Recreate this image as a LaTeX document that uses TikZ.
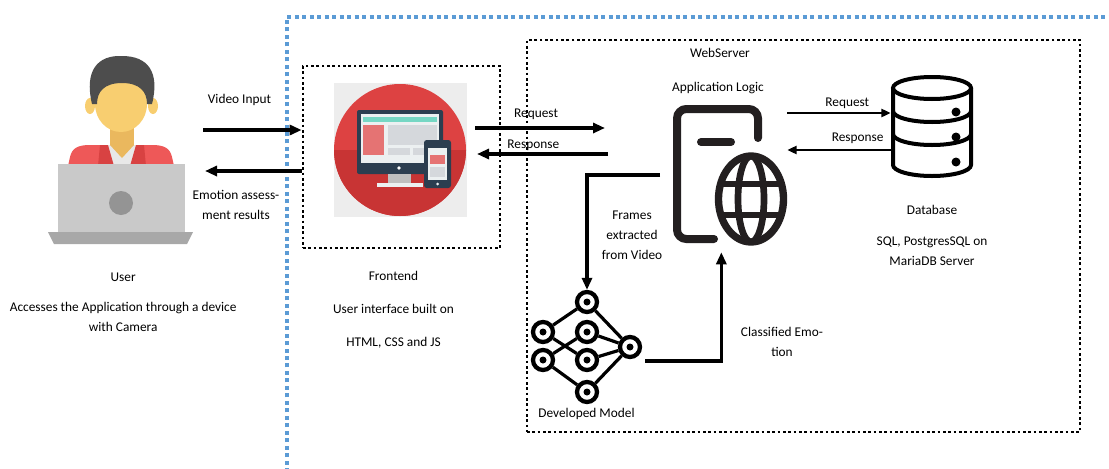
\documentclass[tikz,border=0pt]{standalone}
\usepackage{fontspec}
\setmainfont{Carlito}
\usepackage{xcolor}
\usetikzlibrary{arrows.meta, positioning, fit}
\definecolor{zoneblue}{RGB}{91, 155, 213}
\definecolor{hairgray}{RGB}{77, 77, 77}
\definecolor{skin}{RGB}{248, 206, 112}
\definecolor{skindark}{RGB}{234, 184, 94}
\definecolor{jacket}{RGB}{238, 88, 88}
\definecolor{jacketdark}{RGB}{216, 66, 66}
\definecolor{shirt}{RGB}{232, 232, 232}
\definecolor{laptop}{RGB}{201, 201, 201}
\definecolor{laptopdark}{RGB}{168, 168, 168}
\definecolor{iconred}{RGB}{221, 66, 66}
\definecolor{iconreddark}{RGB}{200, 52, 52}
\definecolor{navy}{RGB}{44, 62, 80}
\definecolor{screen}{RGB}{236, 240, 241}
\definecolor{mint}{RGB}{118, 215, 196}
\definecolor{salmon}{RGB}{229, 115, 115}
\definecolor{panel}{RGB}{213, 216, 220}
\definecolor{ink}{RGB}{35, 31, 32}

\begin{document}
\begin{tikzpicture}[
    x=0.75pt, y=-0.75pt,
    frame/.style={draw, line width=2pt, dash pattern=on 2pt off 2pt,
                  inner sep=0pt},
    zone/.style={draw=zoneblue, line width=3pt, dash pattern=on 3pt off 2.6pt},
    arr/.style={-{Triangle[length=9pt, width=7.5pt]}, line width=2.4pt},
    thinarr/.style={-{Triangle[length=7pt, width=6pt]}, line width=1.8pt},
    lbl/.style={font=\fontsize{10}{15}\selectfont, align=center, inner sep=1pt},
    neuron/.style={circle, draw, line width=3.2pt, fill=white,
                   minimum size=15pt, inner sep=0pt},
    hole/.style={fill=white, inner sep=0pt}
]
\useasboundingbox (0,0) rectangle (1109,468);

% outer zone (cloud side)
\draw[zone] (287,472) -- (287,17) -- (1113,17);

% --- user at a laptop ---
\fill[skin] (90,106) ellipse (5 and 8);
\fill[skin] (153,106) ellipse (5 and 8);
\fill[skindark] (110,118) rectangle (134,152);
\fill[skin] (121,104) ellipse (26 and 28);
\fill[hairgray] (92,104) .. controls (84,70) and (98,55) .. (122,56)
    .. controls (148,56) and (160,72) .. (152,104) -- (147,104)
    .. controls (147,92) and (140,83) .. (122,83)
    .. controls (104,83) and (97,92) .. (97,104) -- cycle;
\fill[jacket] (68,166) -- (70,157) .. controls (72,148) and (78,145) .. (90,145)
    -- (152,145) .. controls (164,145) and (170,148) .. (172,157) -- (174,166) -- cycle;
\fill[shirt] (106,145) -- (138,145) -- (136,166) -- (108,166) -- cycle;
\fill[skindark] (110,145) -- (134,145) -- (122,158) -- cycle;
\fill[jacketdark] (100,145) -- (108,145) -- (114,166) -- (98,166) -- cycle;
\fill[jacketdark] (136,145) -- (144,145) -- (146,166) -- (130,166) -- cycle;
\fill[laptop] (58,164) rectangle (185,233);
\fill[laptopdark] (48,232) -- (193,232) -- (187,244) -- (54,244) -- cycle;
\fill[black!42] (121,203) circle (12);
\node[fit={(48,56) (193,244)}, inner sep=0pt] (user) {};

% --- responsive web icon ---
\fill[black!7] (334,83) rectangle (467,217);
\fill[iconred] (400,150) circle (66);
\begin{scope}
  \clip (400,150) circle (66);
  \fill[iconreddark] (330,150) rectangle (470,220);
\end{scope}
\fill[navy, rounded corners=1.5pt] (357,110) rectangle (443,174);
\fill[screen] (361,114) rectangle (439,163);
\fill[mint] (363,117) rectangle (437,122);
\fill[salmon] (363,125) rectangle (384,155);
\fill[panel] (388,125) rectangle (437,145);
\fill[panel] (388,148) rectangle (410,155);
\fill[panel] (413,148) rectangle (437,155);
\fill[white] (399,168) circle (1.8);
\fill[black!25] (388,174) rectangle (411,183);
\fill[screen] (377,183) rectangle (423,187);
\fill[navy, rounded corners=2pt] (424,140) rectangle (451,188);
\fill[screen] (428,148) rectangle (447,180);
\fill[salmon] (430,155) rectangle (445,164);
\fill[panel] (430,167) rectangle (445,177);
\fill[screen] (437.5,184) circle (1.5);

\node[frame, fit={(303,66) (500,248)}] (front) {};

% --- web server ---
\node[frame, fit={(527,40) (1080,432)}] (web) {};
\node[lbl] at (720,53) {WebServer};

% application logic icon
\draw[ink, line width=6pt, line cap=round, rounded corners=7pt]
    (758,138) -- (758,109) -- (677,109) -- (677,239) -- (714,239);
\draw[ink, line width=6pt, line cap=round] (701,142) -- (731,142);
\fill[white] (751,199) ellipse (37 and 48);
\draw[ink, line width=5.5pt] (751,199) ellipse (32.5 and 43);
\begin{scope}
  \clip (751,199) ellipse (32.5 and 43);
  \draw[ink, line width=5pt] (751,199) ellipse (13 and 43);
  \draw[ink, line width=5pt] (710,184) -- (792,184) (710,215) -- (792,215);
\end{scope}
\node[fit={(673,105) (787,252)}, inner sep=0pt] (app) {};
\node[lbl, above=7pt of app, xshift=-9pt] (applbl) {Application Logic};

% database icon
\begin{scope}[line width=3pt]
  \draw (893,88) -- (893,165) arc[start angle=180, end angle=0,
        x radius=39, y radius=11] -- (971,88);
  \draw (932,88) ellipse (39 and 11);
  \draw (893,111) arc[start angle=180, end angle=0, x radius=39, y radius=11];
  \draw (893,134) arc[start angle=180, end angle=0, x radius=39, y radius=11];
\end{scope}
\foreach \py in {112,137,162}
  \fill (956,\py) circle (4.5);
\node[fit={(891,75) (973,178)}, inner sep=0pt] (db) {};
\node[lbl, below=19pt of db] (dblbl)
    {Database\\[8pt]SQL, PostgresSQL on\\MariaDB Server};

% developed model (small network)
\foreach \nm/\px/\py in {nt/587/302, nlu/543/332, nll/543/360, nmu/587/332,
                         nml/587/360, nb/587/392, nr/630/347}
  \node[neuron] (\nm) at (\px,\py) {};
\foreach \a/\b in {nt/nlu, nt/nr, nlu/nml, nll/nmu, nll/nb, nmu/nr, nml/nr, nb/nr}
  \draw[line width=2.4pt] (\a) -- (\b);
\foreach \nm in {nt, nlu, nll, nmu, nml, nb, nr}
  \fill (\nm) circle (3.5);
\node[fit=(nt)(nb)(nlu)(nr), inner sep=2pt] (model) {};
\node[lbl, below=0pt of model] (modellbl) {Developed Model};

% --- text under user and frontend ---
\node[lbl, below=20pt of user, xshift=2pt] (userlbl)
    {User\\[8pt]Accesses the Application through a device\\with Camera};
\node[lbl, below=15pt of front, xshift=-6pt] (frontlbl)
    {Frontend\\[10pt]User interface built on\\[10pt]HTML, CSS and JS};

% --- connectors ---
\coordinate (vin)  at (203,130);
\coordinate (eout) at (205,171);
\coordinate (rqa)  at (475,128);
\coordinate (rqb)  at (605,128);
\coordinate (rsa)  at (608,154);
\coordinate (rsb)  at (477,154);
\coordinate (qline) at (0,113);
\coordinate (sline) at (0,150);
\coordinate (frm)  at (660,175);
\coordinate (cls)  at (645,361);

\draw[arr] (vin) -- node[lbl, above=16pt, pos=0.37]{Video Input} (vin -| front.west);
\draw[arr] (eout -| front.west) -- (eout);
\node[lbl] at (236,205) {Emotion assess-\\ment results};

\draw[arr] (rqa) -- node[lbl, above=4pt, pos=0.47]{Request} (rqb);
\draw[arr] (rsa) -- node[lbl, above=0pt, pos=0.57]{Response} (rsb);

\draw[thinarr] (app.east |- qline) -- node[lbl, above=1.5pt, pos=0.58]{Request} (db.west |- qline);
\draw[thinarr] (db.west |- sline) -- node[lbl, above=2.5pt, pos=0.32]{Response} (app.east |- sline);

\draw[arr] (frm) -| (nt);
\node[lbl] at (632,235) {Frames\\extracted\\from Video};
\draw[arr] (cls) -| ([xshift=-6.5pt]app.south);
\node[lbl] at (782,342) {Classified Emo-\\tion};
\end{tikzpicture}
\end{document}
